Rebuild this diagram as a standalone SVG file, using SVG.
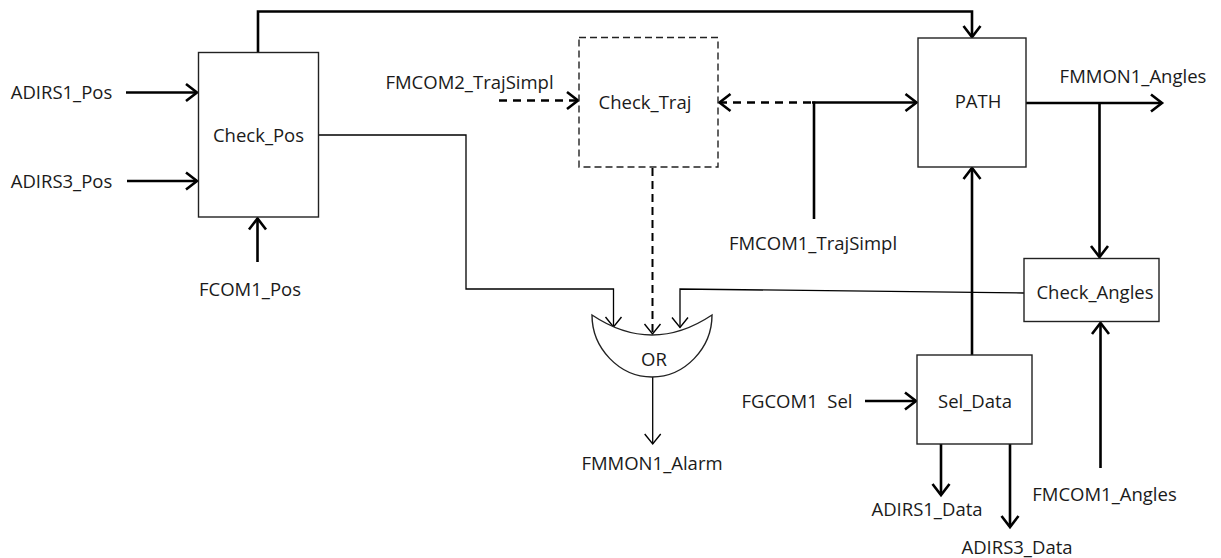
<svg xmlns="http://www.w3.org/2000/svg" width="1221" height="558" viewBox="0 0 1221 558">
<style>
text{font-family:"Open Sans","Noto Sans","Liberation Sans",sans-serif;font-size:18.5px;fill:#1a1a1a;text-anchor:middle;white-space:pre}
.box{fill:#fff;stroke:#222;stroke-width:1.4}
.dbox{fill:#fff;stroke:#222;stroke-width:1.4;stroke-dasharray:7 4}
.thick{fill:none;stroke:#000;stroke-width:2.6;marker-end:url(#ah)}
.thickn{fill:none;stroke:#000;stroke-width:2.6}
.dash{fill:none;stroke:#000;stroke-width:2.6;stroke-dasharray:8 6;marker-end:url(#ah)}
.dashv{fill:none;stroke:#000;stroke-width:2;stroke-dasharray:8 5;marker-end:url(#ahs)}
.thin{fill:none;stroke:#000;stroke-width:1.3;marker-end:url(#ahs)}
</style>
<defs>
<marker id="ah" markerUnits="userSpaceOnUse" orient="auto" markerWidth="30" markerHeight="30" refX="0" refY="0" viewBox="-15 -15 30 30" overflow="visible">
<path d="M-11,-8.5 L0,0 L-11,8.5" fill="none" stroke="#000" stroke-width="2.6" stroke-dasharray="none"/>
</marker>
<marker id="ahs" markerUnits="userSpaceOnUse" orient="auto" markerWidth="30" markerHeight="30" refX="0" refY="0" viewBox="-15 -15 30 30" overflow="visible">
<path d="M-10,-8 L0,0 L-10,8" fill="none" stroke="#000" stroke-width="1.4" stroke-dasharray="none"/>
</marker>
</defs>
<g id="connectors">
<path class="thick" d="M126,92.5 H197"/>
<path class="thick" d="M127,181 H197"/>
<path class="thick" d="M257.5,262 V218.5"/>
<path class="thick" d="M258,52 V11.5 H972 V37"/>
<path class="thin" d="M319,135 H466 V289 H613.5 V327"/>
<path class="dash" d="M499,100.5 H578"/>
<path class="dash" d="M811,102.5 H719.5"/>
<path class="thick" d="M812,102.5 H916.5"/>
<path class="thickn" d="M814,219 V101.5"/>
<path class="dashv" d="M652.5,168 V334"/>
<path class="thick" d="M1026,103 H1162"/>
<path class="thick" d="M1099.5,103 V257"/>
<path class="thin" d="M1024,293 L680,289 V327.5"/>
<path class="thick" d="M1100.5,468 V323"/>
<path class="thick" d="M972,355 V168"/>
<path class="thick" d="M865,401 H916"/>
<path class="thick" d="M941,444 V495"/>
<path class="thick" d="M1010,444 V527"/>
<path class="thin" d="M652.7,377 V444"/>
</g>
<g id="Check_Pos">
<rect class="box" x="198.5" y="52.5" width="120" height="164.5"/>
<text x="258.5" y="141.6">Check_Pos</text>
</g>
<g id="Check_Traj">
<rect class="dbox" x="579" y="37.5" width="139" height="129.5"/>
<text x="645" y="108.6">Check_Traj</text>
</g>
<g id="PATH">
<rect class="box" x="918" y="38" width="108" height="129"/>
<text x="978" y="107.6">PATH</text>
</g>
<g id="Check_Angles">
<rect class="box" x="1024" y="258.5" width="135" height="63"/>
<text x="1095" y="298.6">Check_Angles</text>
</g>
<g id="Sel_Data">
<rect class="box" x="917" y="355" width="115" height="89"/>
<text x="975" y="407.6">Sel_Data</text>
</g>
<g id="OR">
<path d="M592,315 Q652,355 712,315 C712,348 685,377 652,377 C619,377 592,348 592,315 Z" fill="#fff" stroke="#222" stroke-width="1.4"/>
<text x="654" y="365.6">OR</text>
</g>
<g id="labels">
<text x="61.5" y="99.1">ADIRS1_Pos</text>
<text x="61.5" y="187.6">ADIRS3_Pos</text>
<text x="250" y="295.6">FCOM1_Pos</text>
<text x="469.5" y="88.6">FMCOM2_TrajSimpl</text>
<text x="813" y="249.6">FMCOM1_TrajSimpl</text>
<text x="1133" y="82.6">FMMON1_Angles</text>
<text x="652" y="469.6">FMMON1_Alarm</text>
<text x="797" y="407.6">FGCOM1  Sel</text>
<text x="927" y="515.6">ADIRS1_Data</text>
<text x="1017" y="553.6">ADIRS3_Data</text>
<text x="1104.5" y="500.6">FMCOM1_Angles</text>
</g>
</svg>
